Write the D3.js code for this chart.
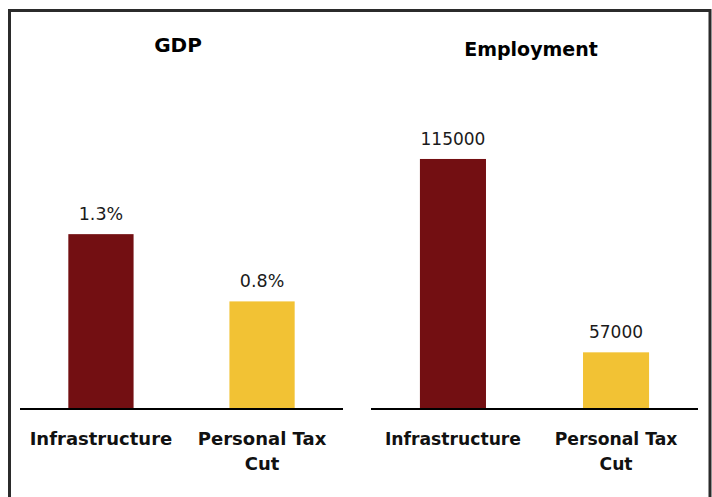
<!DOCTYPE html>
<html>
<head>
<meta charset="utf-8">
<script src="https://cdn.jsdelivr.net/npm/d3@7"></script>
<style>
  html, body { margin: 0; padding: 0; background: #fff; }
  svg { display: block; }
  text { font-family: 'DejaVu Sans', 'DejaVuSans', Verdana, 'Bitstream Vera Sans', sans-serif; }
</style>
</head>
<body>
<svg id="chart" width="712" height="497"></svg>
<script>
// ---- data ----
const categories = ["Infrastructure", "Personal Tax Cut"];
const categoryLines = [["Infrastructure"], ["Personal Tax", "Cut"]];
const panelTitles = ["GDP", "Employment"];
const gdpValues = [1.3, 0.8];
const gdpLabels = ["1.3%", "0.8%"];
const employmentValues = [115000, 57000];
const employmentLabels = ["115000", "57000"];
const colors = ["#730f12", "#f2c234"];

const FONT = "'DejaVu Sans', 'DejaVuSans', Verdana, sans-serif";

// ---- layout ----
const svg = d3.select("#chart");
const baseY = 409;

// frame
svg.append("path")
  .attr("d", "M9.5,510 L9.5,10.5 L710,10.5 L710,510")
  .attr("fill", "none")
  .attr("stroke", "#2b2b2b")
  .attr("stroke-width", 3);

const panels = [
  { title: panelTitles[0], values: gdpValues, labels: gdpLabels,
    xRange: [20, 343], yDomain: [0, 2], yRange: [baseY, 140],
    titleX: 178, titleY: 52, titleSize: 20, valSize: 17.5, catSize: 18 },
  { title: panelTitles[1], values: employmentValues, labels: employmentLabels,
    xRange: [371, 698], yDomain: [40000, 120000], yRange: [baseY, 142.3],
    titleX: 531, titleY: 56, titleSize: 19, valSize: 17, catSize: 17.2 }
];

panels.forEach(p => {
  const g = svg.append("g");
  const x = d3.scaleBand().domain(categories).range(p.xRange)
    .paddingInner(0.595).paddingOuter(0.3);
  const y = d3.scaleLinear().domain(p.yDomain).range(p.yRange);

  const data = categories.map((c, i) => ({ c, v: p.values[i], label: p.labels[i], color: colors[i], lines: categoryLines[i] }));

  g.selectAll("rect.bar").data(data).join("rect")
    .attr("class", "bar")
    .attr("x", d => x(d.c))
    .attr("width", x.bandwidth())
    .attr("y", d => y(d.v))
    .attr("height", d => y(p.yDomain[0]) - y(d.v))
    .attr("fill", d => d.color);

  g.selectAll("text.val").data(data).join("text")
    .attr("class", "val")
    .attr("x", d => x(d.c) + x.bandwidth() / 2)
    .attr("y", d => y(d.v) - 14)
    .attr("text-anchor", "middle")
    .attr("font-family", FONT)
    .attr("font-size", p.valSize)
    .attr("fill", "#1a1a1a")
    .text(d => d.label);

  const axis = g.append("g")
    .attr("transform", `translate(0,${baseY})`)
    .call(d3.axisBottom(x).tickSize(0).tickFormat(""));
  axis.attr("font-family", FONT);
  axis.select(".domain").attr("stroke", "#000").attr("stroke-width", 2.2)
    .attr("d", `M${p.xRange[0]},0H${p.xRange[1]}`);

  axis.selectAll(".tick text").remove();
  axis.selectAll(".tick").each(function(c, i) {
    const t = d3.select(this).append("text")
      .attr("text-anchor", "middle")
      .attr("font-family", FONT)
      .attr("font-size", p.catSize)
      .attr("font-weight", "bold")
      .attr("fill", "#111");
    data[i].lines.forEach((ln, j) => {
      t.append("tspan").attr("x", 0).attr("y", 36 + j * 25).text(ln);
    });
  });

  g.append("text")
    .attr("x", p.titleX)
    .attr("y", p.titleY)
    .attr("text-anchor", "middle")
    .attr("font-family", FONT)
    .attr("font-size", p.titleSize)
    .attr("font-weight", "bold")
    .attr("fill", "#000")
    .text(p.title);
});
</script>
</body>
</html>
